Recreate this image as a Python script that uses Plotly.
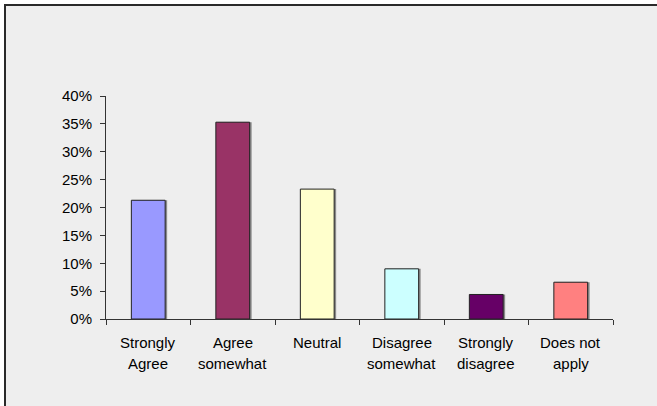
import plotly.graph_objects as go

categories = ["Strongly Agree", "Agree somewhat", "Neutral", "Disagree somewhat", "Strongly disagree", "Does not apply"]
label_line1 = ["Strongly", "Agree", "Neutral", "Disagree", "Strongly", "Does not"]
label_line2 = ["Agree", "somewhat", "", "somewhat", "disagree", "apply"]
values = [0.213, 0.353, 0.233, 0.090, 0.044, 0.066]
colors = ["#9999FF", "#993366", "#FFFFCC", "#CCFFFF", "#660066", "#FF8080"]
y_ticks = [0, 0.05, 0.10, 0.15, 0.20, 0.25, 0.30, 0.35, 0.40]

W, H = 657, 406
L, R, T, B = 106, 44, 96, 87
pw, ph = W - L - R, H - T - B

FONT = "Liberation Sans, Arial, sans-serif"
FS = 15

fig = go.Figure()
xs = list(range(len(categories)))
# shadow
fig.add_trace(go.Bar(x=xs, y=values, width=0.4, offset=-0.2 + 2.0 / (pw / 6),
                     marker=dict(color="#8a8a8a", line=dict(width=0)),
                     hoverinfo="skip", showlegend=False))
fig.add_trace(go.Bar(x=xs, y=values, width=0.4, offset=-0.2,
                     marker=dict(color=colors, line=dict(color="#222222", width=1)),
                     showlegend=False))

def py_to_paper(py):
    return (H - B - py) / ph

for i, (a, b) in enumerate(zip(label_line1, label_line2)):
    fig.add_annotation(x=i, y=py_to_paper(342), xref="x", yref="paper",
                       text=a, showarrow=False, font=dict(family=FONT, size=FS, color="#000"),
                       xanchor="center", yanchor="middle")
    if b:
        fig.add_annotation(x=i, y=py_to_paper(363), xref="x", yref="paper",
                           text=b, showarrow=False, font=dict(family=FONT, size=FS, color="#000"),
                           xanchor="center", yanchor="middle")

# outer chart-area frame (background + border), extending past right/bottom edges
fig.add_shape(type="rect", xref="paper", yref="paper",
              x0=(5 - L) / pw, x1=(W + 60 - L) / pw,
              y0=py_to_paper(H + 60), y1=py_to_paper(5),
              fillcolor="#EEEEEE", line=dict(color="#2a2a2a", width=2), layer="below")

fig.update_layout(
    width=W, height=H,
    margin=dict(l=L, r=R, t=T, b=B, pad=0),
    paper_bgcolor="white", plot_bgcolor="rgba(0,0,0,0)",
    barmode="overlay",
    font=dict(family=FONT, size=FS, color="#000"),
    xaxis=dict(range=[-0.5, 5.5], tickmode="array", tickvals=[i - 0.5 for i in range(7)],
               ticktext=[""] * 7, ticks="outside", ticklen=5, tickcolor="#333",
               showline=True, linecolor="#333", linewidth=1, showgrid=False, zeroline=False,
               fixedrange=True),
    yaxis=dict(range=[0, 0.4], tickvals=y_ticks, tickformat=".0%", ticks="outside",
               ticklen=5, tickcolor="#333", showline=True, linecolor="#333", linewidth=1,
               showgrid=False, zeroline=False, ticklabelstandoff=5, fixedrange=True,
               tickfont=dict(family=FONT, size=FS, color="#000")),
)

fig.write_html("out.html", config={"displayModeBar": False, "staticPlot": True},
               post_script="document.body.style.margin='0';document.body.style.overflow='hidden';")
